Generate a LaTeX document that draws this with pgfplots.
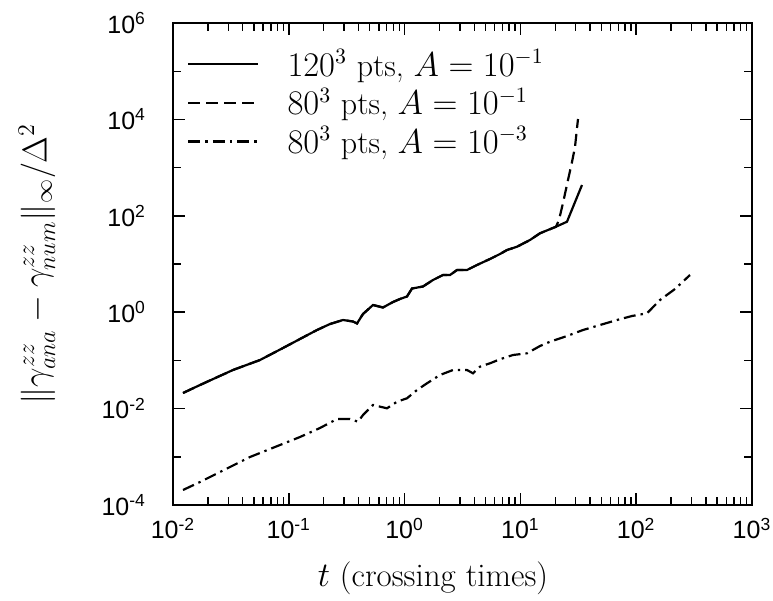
\documentclass[border=0pt]{standalone}
\usepackage{fontspec}
\newfontfamily\tickfont{Liberation Sans}
\usepackage{pgfplots}
\pgfplotsset{compat=1.18}
\newcommand\tlab[1]{{\tickfont 10\textsuperscript{#1}}}

\begin{document}
\begin{tikzpicture}
\begin{axis}[name=ax,
  scale only axis, width=289.5pt, height=241pt,
  xmode=log, ymode=log,
  xmin=1e-2, xmax=1e3, ymin=1e-4, ymax=1e6,
  xtick={1e-2,1e-1,1,10,100,1000},
  xticklabels={\tlab{-2},\tlab{-1},\tlab{0},\tlab{1},\tlab{2},\tlab{3}},
  minor xtick={0.02,0.03,0.04,0.05,0.06,0.07,0.08,0.09,
    0.2,0.3,0.4,0.5,0.6,0.7,0.8,0.9,
    2,3,4,5,6,7,8,9,
    20,30,40,50,60,70,80,90,
    200,300,400,500,600,700,800,900},
  ytick={1e-4,1e-2,1,1e2,1e4,1e6},
  yticklabels={\tlab{-4},\tlab{-2},\tlab{0},\tlab{2},\tlab{4},\tlab{6}},
  minor ytick={1e-3,1e-1,10,1e3,1e5},
  xtick align=inside, ytick align=inside,
  major tick length=6pt, minor tick length=4pt,
  axis line style={line width=0.8pt},
  major tick style={draw=black, line width=0.8pt},
  minor tick style={draw=black, line width=0.7pt},
  ticklabel style={font=\fontsize{12.5}{14}\selectfont},
  xticklabel style={yshift=-3pt},
  yticklabel style={xshift=-10pt},
  xlabel={$t$ (crossing times)},
  ylabel={$\|\gamma^{zz}_{ana}-\gamma^{zz}_{num}\|_\infty/\Delta^2$},
  label style={font=\fontsize{16.5}{20}\selectfont},
  xlabel style={at={(axis description cs:0.449,0)}, anchor=north, yshift=-25pt},
  ylabel style={at={(axis description cs:-0.235,0.5)}, anchor=center},
  legend style={draw=none, fill=none, at={(axis description cs:0,1)}, anchor=north west,
    xshift=7pt, yshift=-11pt, inner sep=0pt, column sep=12pt, row sep=0.5pt,
    font=\fontsize{16}{19}\selectfont},
  legend cell align=left,
  legend image code/.code={\draw[#1] (0pt,0pt) -- (35pt,0pt);},
]
% 120^3 pts, A = 1e-1
\addplot[black, line width=1.1pt] coordinates {
(0.01220,0.02107) (0.01711,0.03088) (0.03296,0.06323) (0.05640,0.1019)
(0.08912,0.1808) (0.1249,0.2780) (0.1752,0.4272) (0.2269,0.5691)
(0.2938,0.6888) (0.3584,0.6414) (0.3881,0.5829) (0.4373,0.9177)
(0.5336,1.411) (0.6510,1.252) (0.7940,1.627) (0.9126,1.879)
(1.049,2.117) (1.159,3.102) (1.441,3.414) (1.759,4.656)
(2.146,5.912) (2.467,5.912) (2.835,7.508) (3.459,7.508)
(4.219,9.535) (5.463,12.70) (6.665,16.12) (7.659,19.52)
(9.346,22.85) (12.10,31.47) (14.77,43.36) (17.31,50.75)
(20.30,59.40) (22.87,67.59) (25.26,75.44) (34.04,435.5)
};
\addlegendentry{$120^3$ pts, $A=10^{-1}$}
% 80^3 pts, A = 1e-1
\addplot[black, line width=1.1pt, dash pattern=on 6pt off 3pt] coordinates {
(0.01220,0.02107) (0.01711,0.03088) (0.03296,0.06323) (0.05640,0.1019)
(0.08912,0.1808) (0.1249,0.2780) (0.1752,0.4272) (0.2269,0.5691)
(0.2938,0.6888) (0.3584,0.6414) (0.3881,0.5829) (0.4373,0.9177)
(0.5336,1.411) (0.6510,1.252) (0.7940,1.627) (0.9126,1.879)
(1.049,2.117) (1.159,3.102) (1.441,3.414) (1.759,4.656)
(2.146,5.912) (2.467,5.912) (2.835,7.508) (3.459,7.508)
(4.219,9.535) (5.463,12.70) (6.665,16.12) (7.659,19.52)
(9.346,22.85) (12.10,31.47) (14.77,43.36) (17.31,50.75)
(20.30,59.40) (21.54,81.84) (23.33,184.3) (25.77,553.0)
(27.91,1307) (29.62,2676) (31.44,10190)
};
\addlegendentry{$80^3$ pts, $A=10^{-1}$}
% 80^3 pts, A = 1e-3
\addplot[black, line width=1.1pt, dash pattern=on 6pt off 2.5pt on 1.2pt off 2.5pt] coordinates {
(0.01220,2.048e-4) (0.01711,3.000e-4) (0.04623,9.906e-4) (0.08395,1.757e-3)
(0.1249,2.575e-3) (0.1859,3.958e-3) (0.2608,6.084e-3) (0.3377,6.084e-3)
(0.3959,5.348e-3) (0.4373,7.365e-3) (0.5336,0.01188) (0.7047,0.01014)
(0.8601,0.01390) (1.049,0.01636) (1.280,0.02431) (1.561,0.03348)
(2.021,0.04979) (2.618,0.06323) (3.459,0.06323) (3.896,0.05400)
(4.478,0.07402) (5.463,0.08706) (6.665,0.1056) (8.632,0.1294)
(11.40,0.1404) (14.77,0.1990) (18.01,0.2443) (25.26,0.3208)
(34.72,0.4272) (48.69,0.5425) (68.28,0.6888) (91.99,0.8343)
(124.0,0.9489) (160.5,1.791) (216.3,3.029) (291.5,5.912)
};
\addlegendentry{$80^3$ pts, $A=10^{-3}$}
\end{axis}
\pgfresetboundingbox
\path[use as bounding box] ([xshift=-86.5pt,yshift=-48pt]ax.south west) rectangle ([xshift=10.5pt,yshift=11.5pt]ax.north east);
\end{tikzpicture}
\end{document}
